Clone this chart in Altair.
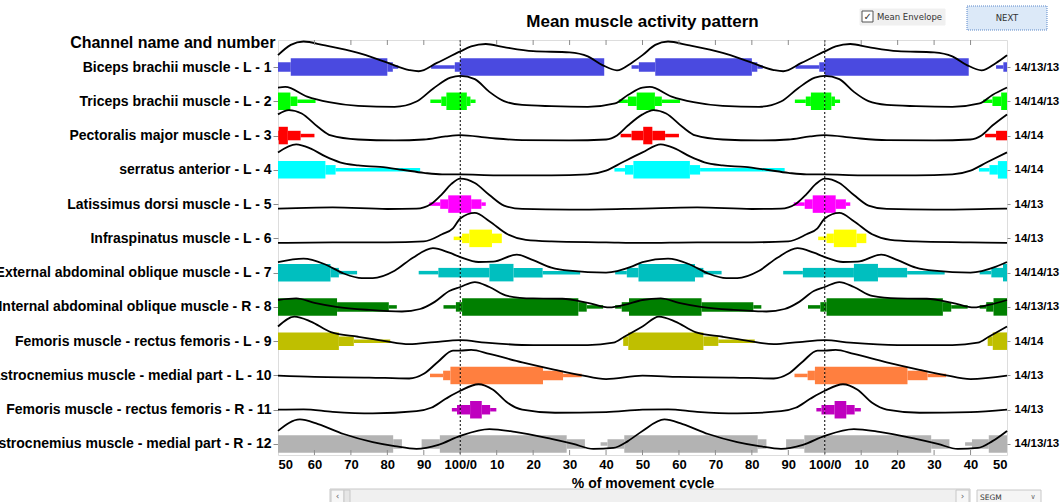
import json
import altair as alt
import pandas as pd

# ---------------- data ----------------
rows = list(range(1, 13))
channel_names = [
    "Biceps brachii muscle - L - 1",
    "Triceps brachii muscle - L - 2",
    "Pectoralis major muscle - L - 3",
    "serratus anterior - L - 4",
    "Latissimus dorsi muscle - L - 5",
    "Infraspinatus muscle - L - 6",
    "External abdominal oblique muscle - L - 7",
    "Internal abdominal oblique muscle - R - 8",
    "Femoris muscle - rectus femoris - L - 9",
    "Gastrocnemius muscle - medial part - L - 10",
    "Femoris muscle - rectus femoris - R - 11",
    "Gastrocnemius muscle - medial part - R - 12",
]
trial_counts = ["14/13/13", "14/14/13", "14/14", "14/14", "14/13", "14/13",
                "14/14/13", "14/13/13", "14/14", "14/13", "14/13", "14/13/13"]
colors = ["#4a4ae0", "#00ff00", "#ff0000", "#00ffff", "#ff00ff", "#ffff00",
          "#00bfbf", "#007f00", "#bfbf00", "#ff7f3f", "#bf00bf", "#b3b3b3"]
chart_title = "Mean muscle activity pattern"

# mean envelope (one cycle, % of cycle -> normalised amplitude)
env_c = {
    1: [0, 3, 7, 12, 20, 30, 35, 39, 43, 47, 50, 53.5, 57, 62.5, 72, 79, 86, 88.6, 93.6],
    2: [0, 4, 8, 12, 17, 25, 35, 42.5, 46, 50, 52, 58, 64, 72, 82, 88, 92.7, 97.3],
    3: [0, 8, 17, 30, 40, 43, 46, 50, 53, 56.5, 61, 64.5, 72, 82, 90, 96],
    4: [0, 10, 25, 35, 40, 44.5, 50, 55, 59, 63, 67, 72, 78, 84, 90, 95],
    5: [0, 4, 8, 12, 17, 30, 45, 50, 55, 65, 80, 88, 92, 95, 97.5],
    6: [0, 4, 8, 13, 18, 25, 40, 50, 65, 80, 90, 95, 98],
    7: [0, 5, 9, 15.5, 20, 25, 30, 40, 47, 50, 57, 63, 68, 73, 76, 82, 87, 92.5, 97],
    8: [0, 4, 8, 13, 20, 28, 35, 41, 45, 50, 55, 60, 66, 75, 84, 89, 93, 97],
    9: [0, 7, 20, 35, 42, 45, 50, 54.5, 59, 64.5, 72, 79, 86, 93],
    10: [0, 3, 8, 17, 26, 33, 40, 50, 60, 75, 86, 90, 94, 98],
    11: [0, 5, 9, 13, 17, 26, 40, 50, 57, 65, 76, 88, 92, 96],
    12: [0, 8, 15, 25, 31, 36.5, 42, 46, 50, 56, 61, 68, 76, 82, 88, 94],
}
env_v = {
    1: [0.68, 0.84, 0.92, 0.82, 0.69, 0.65, 0.52, 0.24, 0.07, 0.31, 0.56, 0.89, 1.0, 0.88, 0.63, 0.36, 0.08, 0.04, 0.31],
    2: [1.0, 0.89, 0.48, 0.18, 0.06, 0.02, 0.0, 0.11, 0.38, 0.62, 0.64, 0.33, 0.15, 0.03, 0.0, 0.17, 0.60, 0.94],
    3: [0.19, 0.10, 0.03, 0.02, 0.05, 0.18, 0.50, 0.86, 1.0, 0.89, 0.45, 0.18, 0.05, 0.02, 0.05, 0.15],
    4: [0.03, 0.0, 0.0, 0.03, 0.15, 0.42, 0.74, 1.0, 0.86, 0.61, 0.42, 0.32, 0.27, 0.18, 0.08, 0.03],
    5: [1.0, 0.86, 0.47, 0.13, 0.02, 0.0, 0.02, 0.03, 0.05, 0.07, 0.02, 0.03, 0.18, 0.50, 0.82],
    6: [0.82, 1.0, 0.73, 0.31, 0.13, 0.08, 0.05, 0.03, 0.05, 0.05, 0.08, 0.31, 0.50],
    7: [0.68, 0.52, 0.53, 0.76, 0.58, 0.34, 0.24, 0.18, 0.37, 0.52, 0.63, 0.44, 0.15, 0.0, 0.0, 0.24, 0.66, 0.97, 0.82],
    8: [0.82, 0.98, 0.82, 0.53, 0.45, 0.44, 0.31, 0.16, 0.24, 0.40, 0.45, 0.31, 0.18, 0.08, 0.03, 0.11, 0.34, 0.69],
    9: [0.21, 0.13, 0.05, 0.05, 0.13, 0.32, 0.65, 0.97, 0.81, 0.47, 0.32, 0.19, 0.08, 0.15],
    10: [0.98, 1.0, 0.87, 0.60, 0.36, 0.19, 0.06, 0.17, 0.13, 0.11, 0.08, 0.23, 0.63, 0.98],
    11: [0.79, 1.0, 0.82, 0.40, 0.18, 0.08, 0.10, 0.18, 0.19, 0.11, 0.06, 0.13, 0.24, 0.53],
    12: [0.44, 0.66, 0.57, 0.34, 0.18, 0.02, 0.05, 0.27, 0.60, 0.97, 0.82, 0.50, 0.24, 0.11, 0.02, 0.15],
}

# activity bars (one cycle): start %, end %, level (1 thin, 2 medium, 3 thick)
bar_start = {
    1: [0, 47, 49, 53.5, 80, 81.5, 92, 98.5],
    2: [0, 1.8, 2.8, 43.5, 46, 48.4, 53.4, 55.3, 91.8, 94.8, 96.2],
    3: [44, 47, 50.2, 52.7, 56.2],
    4: [42.3, 45.2, 47.5, 63, 65.8],
    5: [0, 3, 5.8, 91.5, 94.5, 96.7],
    6: [0, 0.5, 2.5, 8.7, 98.2],
    7: [0, 8, 14.6, 22.6, 42.5, 45.7, 48.9, 64.4, 66.7, 88.6, 94],
    8: [0, 0.5, 32.4, 34.7, 42.5, 44.3, 46.3, 66.2, 80.4, 95.4, 98.8],
    9: [44.7, 46.1, 66.7, 70.8],
    10: [0, 22.7, 28.2, 91.7, 95.3, 97.3],
    11: [0, 2.7, 5.9, 8.2, 97.7, 99.1],
    12: [0, 29.2, 38.5, 40.4, 45, 81.6, 89.4, 94.4],
}
bar_end = {
    1: [39.5, 49, 53.5, 80, 81.5, 83, 98.5, 100],
    2: [1.8, 2.8, 4.2, 46, 48.4, 53.4, 55.3, 60.3, 94.8, 96.2, 100],
    3: [47, 50.2, 52.7, 56.2, 60],
    4: [45.2, 47.5, 63, 65.8, 89],
    5: [3, 5.8, 7, 94.5, 96.7, 100],
    6: [0.5, 2.5, 8.7, 11.4, 100],
    7: [8, 14.6, 22.6, 32.9, 45.7, 48.9, 64.4, 66.7, 71.7, 94, 100],
    8: [0.5, 32.4, 34.7, 39.2, 44.3, 46.3, 66.2, 80.4, 82.6, 98.8, 100],
    9: [46.1, 66.7, 70.8, 80.8],
    10: [22.7, 28.2, 33.3, 95.3, 97.3, 100],
    11: [2.7, 5.9, 8.2, 9.9, 99.1, 100],
    12: [29.2, 34.2, 40.4, 45, 81.6, 84, 94.4, 100],
}
bar_level = {
    1: [3, 1, 2, 3, 2, 1, 1, 2],
    2: [3, 2, 1, 1, 2, 3, 2, 1, 1, 2, 3],
    3: [1, 2, 3, 2, 1],
    4: [1, 2, 3, 2, 1],
    5: [3, 2, 1, 1, 2, 3],
    6: [1, 2, 3, 2, 1],
    7: [2, 3, 2, 1, 1, 2, 3, 2, 1, 1, 2],
    8: [2, 3, 2, 1, 1, 2, 3, 2, 1, 1, 2],
    9: [2, 3, 2, 1],
    10: [3, 2, 1, 1, 2, 3],
    11: [2, 3, 2, 1, 1, 2],
    12: [3, 2, 1, 2, 3, 2, 2, 3],
}

x_ticks = list(range(50, 251, 10))

# ---------------- layout / style constants ----------------
X0, X1 = 50, 250           # 1.5 cycles displayed: 50..100 | 0..100 | 0..50
ROW_PX = 34.27             # pixels per channel row
HALF_PX = {1: 1.75, 2: 4.75, 3: 8.75}
ENV_BASE = 5.5 / ROW_PX
ENV_SCALE = 31.0 / ROW_PX
FONT = "Liberation Sans"
W, H = 729, 415

# ---------------- tables ----------------
env_rows = []
for r in rows:
    for k in range(3):
        for c, v in zip(env_c[r], env_v[r]):
            x = c + 100 * k
            if X0 <= x <= X1:
                env_rows.append({"row": r, "x": x, "yc": r + ENV_BASE - ENV_SCALE * v})
env_df = pd.DataFrame(env_rows).sort_values(["row", "x"])

bar_rows = []
for r in rows:
    for s, e, lv in zip(bar_start[r], bar_end[r], bar_level[r]):
        for k in range(3):
            a, b = max(s + 100 * k, X0), min(e + 100 * k, X1)
            if b > a:
                h = HALF_PX[lv] / ROW_PX
                bar_rows.append({"row": r, "x": a, "x2": b, "y": r - h, "y2": r + h})
bar_df = pd.DataFrame(bar_rows)

# ---------------- scales / axes ----------------
xscale = alt.Scale(domain=[X0, X1], nice=False, zero=False)
yscale = alt.Scale(domain=[0.212, 12.321], reverse=True, nice=False, zero=False)

xaxis = alt.Axis(
    values=x_ticks, title="% of movement cycle",
    labelExpr="datum.value % 100 == 0 ? '100/0' : format(datum.value % 100, 'd')",
    tickSize=0, labelPadding=3, domain=False, grid=False,
    labelFont=FONT, labelFontSize=13, labelFontWeight="bold", labelColor="black",
    titleFont=FONT, titleFontSize=14, titleFontWeight="bold", titleColor="black",
    titlePadding=5,
)
left_axis = alt.Axis(
    values=rows, orient="left",
    labelExpr=json.dumps(channel_names) + "[datum.value - 1]",
    labelLimit=0,
    title="Channel name and number", titleAngle=0, titleAlign="right",
    titleBaseline="middle", titleX=-3, titleY=2,
    titleFont=FONT, titleFontSize=16, titleFontWeight="bold", titleColor="black",
    labelFont=FONT, labelFontSize=14, labelFontWeight="bold", labelColor="black",
    tickSize=5, tickColor="#8c8c8c", labelPadding=2, domain=False, grid=False,
)
right_axis = alt.Axis(
    values=rows, orient="right", title=None,
    labelExpr=json.dumps(trial_counts) + "[datum.value - 1]",
    labelLimit=0,
    labelFont=FONT, labelFontSize=11.5, labelFontWeight="bold", labelColor="black",
    tickSize=3, tickColor="#8c8c8c", labelPadding=4, domain=False, grid=False,
)

X = alt.X("x:Q", scale=xscale, axis=xaxis)

bars = alt.Chart(bar_df).mark_rect(strokeWidth=0).encode(
    x=X, x2="x2:Q",
    y=alt.Y("y:Q", scale=yscale, axis=left_axis), y2="y2:Q",
    color=alt.Color("row:O", scale=alt.Scale(domain=rows, range=colors), legend=None),
)

curves = alt.Chart(env_df).mark_line(
    color="black", strokeWidth=1.8, interpolate="monotone"
).encode(
    x=X, y=alt.Y("yc:Q", scale=yscale, axis=None), detail="row:N",
)

cycle_marks = alt.Chart(pd.DataFrame({"x": [100, 200]})).mark_rule(
    color="black", strokeDash=[2, 2], strokeWidth=1
).encode(x=X)

tick_df = pd.DataFrame({"x": x_ticks[1:-1]})
top_ticks = alt.Chart(tick_df).mark_rule(color="#8c8c8c", strokeWidth=1).encode(
    x=X, y=alt.value(0), y2=alt.value(5))
bottom_ticks = alt.Chart(tick_df).mark_rule(color="#8c8c8c", strokeWidth=1).encode(
    x=X, y=alt.value(H), y2=alt.value(H - 5))

right_labels = alt.Chart(pd.DataFrame({"row": rows})).mark_point(opacity=0, size=0).encode(
    x=alt.value(0), y=alt.Y("row:Q", scale=yscale, axis=right_axis))

# ---- title and window widgets around the plot (checkbox, button, scrollbar, menu) ----
one = pd.DataFrame({"a": [0]})


def box(x1, x2, y1, y2, fill, stroke, sw=1, dash=None):
    kw = dict(fill=fill, stroke=stroke, strokeWidth=sw)
    if dash:
        kw["strokeDash"] = dash
    return alt.Chart(one).mark_rect(**kw).encode(
        x=alt.value(x1), x2=alt.value(x2), y=alt.value(y1), y2=alt.value(y2))


def label(txt, x, y, size=9, align="left", color="#333333", font="DejaVu Sans",
          weight="normal"):
    return alt.Chart(one).mark_text(text=txt, font=font, fontSize=size, fontWeight=weight,
                                    align=align, baseline="middle", color=color).encode(
        x=alt.value(x), y=alt.value(y))


decor = [
    label(chart_title, W / 2, -18, size=17, align="center", color="black",
          font=FONT, weight="bold"),
    box(582, 667, -31, -15, "#f0f0f0", "#f0f0f0"),
    box(584, 595, -29, -18, "white", "#555555"),
    label("\u2713", 585.5, -23.5, size=10, color="#333333"),
    label("Mean Envelope", 599, -23, size=8.5),
    box(689, 769, -34, -10, "#dce9f8", "#5b87c9", dash=[1, 1]),
    label("NEXT", 729, -22, size=8.5, align="center"),
    box(52, 692, 449, 465, "#f0f0f0", "#c8c8c8"),
    box(53, 66, 450, 464, "#f7f7f7", "#c8c8c8"),
    label("\u2039", 59.5, 456, size=9, align="center", color="#666666"),
    box(66, 72, 450, 464, "#e6e6e6", "#c8c8c8"),
    box(678, 691, 450, 464, "#f7f7f7", "#c8c8c8"),
    label("\u203a", 684.5, 456, size=9, align="center", color="#666666"),
    box(699, 763, 450, 466, "#f5f5f5", "#c8c8c8"),
    label("SEGM", 702, 458, size=7.5),
    label("\u2228", 755, 457, size=7, align="center", color="#666666"),
]

chart = alt.layer(
    bars, curves, cycle_marks, top_ticks, bottom_ticks, right_labels, *decor
).resolve_scale(y="independent").properties(
    width=W, height=H,
    autosize=alt.AutoSizeParams(type="none"),
    padding={"left": 278, "top": 40, "right": 54, "bottom": 47},
).configure_view(stroke="#a0a0a0", strokeWidth=1.5).configure(background="white")

chart.save("out.html", embed_options={"renderer": "svg", "actions": False})
